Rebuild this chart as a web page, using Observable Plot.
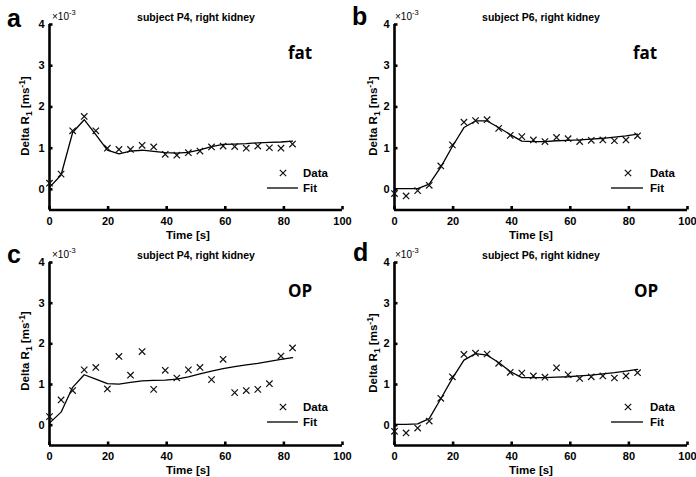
<!DOCTYPE html>
<html>
<head>
<meta charset="utf-8">
<script src="https://cdn.jsdelivr.net/npm/d3@7"></script>
<script src="https://cdn.jsdelivr.net/npm/@observablehq/plot@0.6"></script>
<style>
  body { margin: 0; background: #fff; }
  #fig { position: relative; width: 696px; height: 477px; overflow: hidden; background: #fff; }
  .cell { position: absolute; }
  .cell svg { display: block; }
</style>
</head>
<body>
<div id="fig"></div>
<script>
// ---- data (Delta R1 in units of 1e-3 ms^-1) ----
const time = [0, 3.95, 7.9, 11.85, 15.8, 19.75, 23.7, 27.65, 31.6, 35.55, 39.5, 43.45, 47.4, 51.35, 55.3, 59.25, 63.2, 67.15, 71.1, 75.05, 79.0, 82.95];

const fatP4Data = [0.15, 0.37, 1.42, 1.77, 1.42, 1.0, 0.97, 0.97, 1.07, 1.03, 0.85, 0.83, 0.89, 0.93, 1.03, 1.05, 1.04, 1.0, 1.05, 1.01, 1.0, 1.1];
const fatP4Fit  = [0.05, 0.35, 1.38, 1.69, 1.33, 0.95, 0.86, 0.93, 0.95, 0.92, 0.89, 0.88, 0.90, 0.96, 1.04, 1.09, 1.10, 1.11, 1.13, 1.14, 1.15, 1.17];

const fatP6Data = [-0.1, -0.16, -0.03, 0.1, 0.57, 1.08, 1.63, 1.67, 1.69, 1.48, 1.31, 1.28, 1.2, 1.16, 1.26, 1.23, 1.16, 1.19, 1.2, 1.18, 1.2, 1.3];
const fatP6Fit  = [0.02, 0.02, 0.02, 0.13, 0.54, 1.04, 1.5, 1.66, 1.66, 1.5, 1.33, 1.17, 1.16, 1.16, 1.18, 1.19, 1.2, 1.22, 1.24, 1.27, 1.3, 1.34];

const opP4Data = [0.21, 0.62, 0.85, 1.36, 1.42, 0.89, 1.69, 1.23, 1.81, 0.88, 1.35, 1.16, 1.36, 1.42, 1.12, 1.62, 0.8, 0.85, 0.88, 1.02, 1.7, 1.9];
const opP4Fit  = [0.05, 0.32, 0.93, 1.24, 1.13, 1.02, 1.01, 1.05, 1.09, 1.1, 1.11, 1.13, 1.19, 1.26, 1.33, 1.39, 1.44, 1.48, 1.52, 1.57, 1.62, 1.66];

const opP6Data = [-0.15, -0.19, -0.07, 0.1, 0.66, 1.19, 1.74, 1.77, 1.75, 1.52, 1.3, 1.28, 1.21, 1.18, 1.41, 1.24, 1.15, 1.19, 1.21, 1.16, 1.21, 1.29];
const opP6Fit  = [0.02, 0.02, 0.03, 0.16, 0.65, 1.15, 1.6, 1.76, 1.72, 1.54, 1.32, 1.17, 1.17, 1.17, 1.18, 1.19, 1.21, 1.23, 1.26, 1.29, 1.33, 1.37];

const xTicks = [0, 20, 40, 60, 80, 100];
const yTicks = [0, 1, 2, 3, 4];
const xDomain = [0, 100];
const yDomain = [-0.5, 4];
const panelLetters = ["a", "b", "c", "d"];
const panelTitles = ["subject P4, right kidney", "subject P6, right kidney", "subject P4, right kidney", "subject P6, right kidney"];
const panelTags = ["fat", "fat", "OP", "OP"];
const seriesData = [fatP4Data, fatP6Data, opP4Data, opP6Data];
const seriesFit = [fatP4Fit, fatP6Fit, opP4Fit, opP6Fit];
const legendLabels = ["Data", "Fit"];
const xLabel = "Time [s]";
const expLabel = ["\u00d710", "-3"];

// ---- layout ----
const W = 348, MT = 24;
const layout = [
  {ox: 0,   oy: 0,   h: 238, ml: 49, mr: 6, mb: 28.5, letterX: 7, letterY: 27, expX: 52, titleX: 196, tagX: 300, legX: 283, legTx: 303, legL: [267, 298], legY: 173, fitY: 188, ylX: 29, ylY: 116, tX: 188, tY: 239},
  {ox: 348, oy: 0,   h: 238, ml: 46, mr: 9, mb: 28.5, letterX: 4, letterY: 25, expX: 47, titleX: 193, tagX: 297, legX: 280, legTx: 302, legL: [263, 295], legY: 173, fitY: 188, ylX: 29, ylY: 116, tX: 183, tY: 239},
  {ox: 0,   oy: 238, h: 239, ml: 49, mr: 6, mb: 32,   letterX: 7, letterY: 25, expX: 52, titleX: 196, tagX: 300, legX: 283, legTx: 303, legL: [267, 298], legY: 169, fitY: 184, ylX: 29, ylY: 113, tX: 188, tY: 236},
  {ox: 348, oy: 238, h: 239, ml: 46, mr: 9, mb: 32,   letterX: 5, letterY: 23, expX: 47, titleX: 193, tagX: 298, legX: 280, legTx: 302, legL: [263, 295], legY: 169, fitY: 184, ylX: 29, ylY: 115, tX: 183, tY: 236}
];

const SANS = "'Liberation Sans', Arial, Helvetica, sans-serif";
const DOT_R = 3;

const fig = document.getElementById("fig");

layout.forEach((L, k) => {
  const rows = time.map((t, i) => ({t, data: seriesData[k][i], fit: seriesFit[k][i]}));
  const innerH = L.h - MT - L.mb;
  const innerW = W - L.ml - L.mr;
  const chart = Plot.plot({
    width: W, height: L.h,
    marginLeft: L.ml, marginRight: L.mr, marginTop: MT, marginBottom: L.mb,
    style: {fontFamily: SANS, fontSize: "11px", fontWeight: "bold", background: "transparent", overflow: "visible", color: "#000"},
    x: {domain: xDomain, ticks: xTicks, tickSize: 0, tickPadding: 7, tickFormat: d => String(d), label: null},
    y: {domain: yDomain, ticks: yTicks, tickSize: 0, tickPadding: 5, tickFormat: d => String(d), label: null},
    marks: [
      Plot.ruleX([xDomain[0]], {stroke: "#000", strokeWidth: 2.6}),
      Plot.ruleY([yDomain[0]], {stroke: "#000", strokeWidth: 2.6}),
      Plot.tickX(xTicks, {x: d => d, insetTop: innerH - 3.5, stroke: "#000", strokeWidth: 2.6}),
      Plot.tickY(yTicks, {y: d => d, insetRight: innerW - 3.5, stroke: "#000", strokeWidth: 2.6}),
      Plot.line(rows, {x: "t", y: "fit", stroke: "#000", strokeWidth: 1.3}),
      Plot.dot(rows, {x: "t", y: "data", symbol: "times", r: DOT_R, stroke: "#111", strokeWidth: 1.2})
    ]
  });
  const cell = document.createElement("div");
  cell.className = "cell";
  cell.style.left = L.ox + "px";
  cell.style.top = L.oy + "px";
  cell.style.width = W + "px";
  cell.style.height = L.h + "px";
  cell.appendChild(chart);
  fig.appendChild(cell);
});

// ---- annotation overlay (text, legend) ----
const ov = d3.select("#fig").append("svg")
  .attr("width", 696).attr("height", 477)
  .style("position", "absolute").style("left", 0).style("top", 0)
  .style("overflow", "visible").style("pointer-events", "none")
  .attr("font-family", SANS).attr("fill", "#000");

const timesPath = d3.symbol().type(d3.symbolTimes).size(DOT_R * DOT_R * Math.PI)();

layout.forEach((L, k) => {
  const g = ov.append("g").attr("transform", `translate(${L.ox},${L.oy})`);
  // panel letter
  g.append("text").attr("x", L.letterX).attr("y", L.letterY)
    .attr("font-size", 25).attr("font-weight", "bold").text(panelLetters[k]);
  // exponent
  const ex = g.append("text").attr("x", L.expX).attr("y", 20).attr("font-size", 10);
  ex.append("tspan").text(expLabel[0]);
  ex.append("tspan").attr("dy", -5).attr("font-size", 7.5).text(expLabel[1]);
  // title
  g.append("text").attr("x", L.titleX).attr("y", 21).attr("text-anchor", "middle")
    .attr("font-size", 10.5).attr("font-weight", "bold").text(panelTitles[k]);
  // tag
  g.append("text").attr("x", L.tagX).attr("y", 59).attr("text-anchor", "middle")
    .attr("font-family", "'Open Sans', sans-serif").attr("font-size", 17).attr("font-weight", "bold")
    .text(panelTags[k]);
  // legend
  g.append("path").attr("d", timesPath).attr("transform", `translate(${L.legX},${L.legY})`)
    .attr("fill", "none").attr("stroke", "#111").attr("stroke-width", 1.2);
  g.append("text").attr("x", L.legTx).attr("y", L.legY + 4).attr("font-size", 11.5).attr("font-weight", "bold").text(legendLabels[0]);
  g.append("line").attr("x1", L.legL[0]).attr("x2", L.legL[1]).attr("y1", L.fitY).attr("y2", L.fitY)
    .attr("stroke", "#000").attr("stroke-width", 1.3);
  g.append("text").attr("x", L.legTx).attr("y", L.fitY + 4).attr("font-size", 11.5).attr("font-weight", "bold").text(legendLabels[1]);
  // y label
  const yl = g.append("text").attr("transform", `translate(${L.ylX},${L.ylY}) rotate(-90)`)
    .attr("text-anchor", "middle").attr("font-size", 11.5).attr("font-weight", "bold");
  yl.append("tspan").text("Delta R");
  yl.append("tspan").attr("dy", 3).attr("font-size", 8.5).text("1");
  yl.append("tspan").attr("dy", -3).text(" [ms");
  yl.append("tspan").attr("dy", -4.5).attr("font-size", 8.5).text("-1");
  yl.append("tspan").attr("dy", 4.5).text("]");
  // x label
  g.append("text").attr("x", L.tX).attr("y", L.tY).attr("text-anchor", "middle")
    .attr("font-size", 11.5).attr("font-weight", "bold").text(xLabel);
});
</script>
</body>
</html>
